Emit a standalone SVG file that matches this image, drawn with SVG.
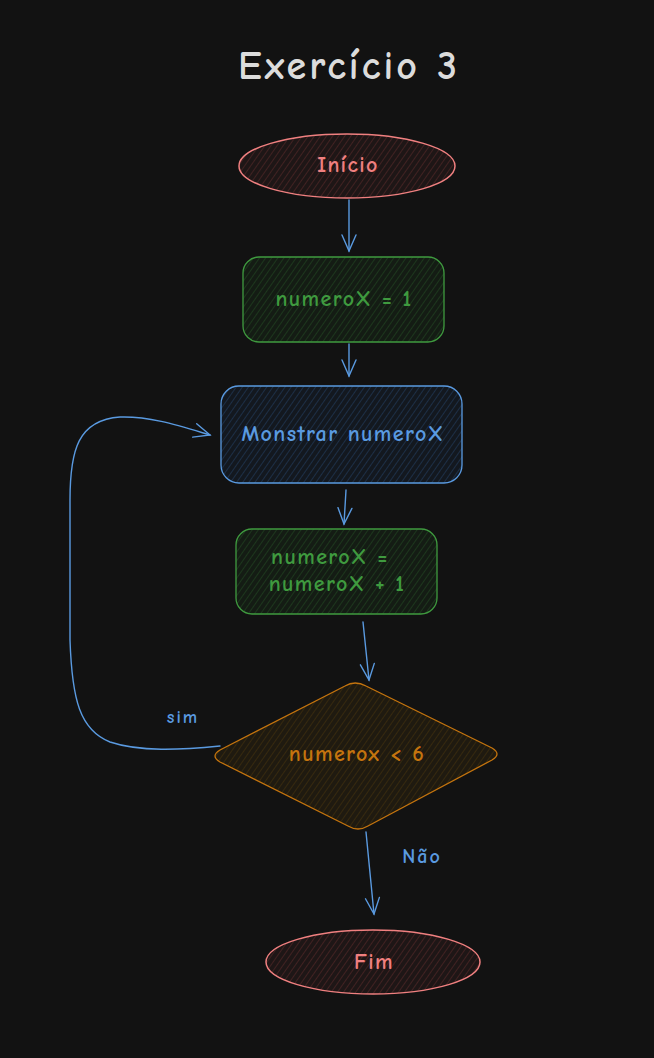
<svg xmlns="http://www.w3.org/2000/svg" width="654" height="1058" viewBox="0 0 654 1058">
<style>
text{font-family:"Comic Neue","Liberation Sans","DejaVu Sans",sans-serif;text-anchor:middle;dominant-baseline:central;font-weight:700}
.t{font-size:22px;letter-spacing:1.4px}
.red{stroke:#f08080;stroke-width:1.5}
.grn{stroke:#3f9a3f;stroke-width:1.3}
.blu{stroke:#5a9ae0;stroke-width:1.3}
.org{stroke:#c4740e;stroke-width:1.3}
.conn{fill:none;stroke:#5a9ae0;stroke-width:1.4;stroke-linecap:round}
</style>
<defs>
<pattern id="hr" width="5" height="5" patternUnits="userSpaceOnUse" patternTransform="rotate(35)"><rect width="5" height="5" fill="#1e1616"/><line x1="0" y1="0" x2="0" y2="5" stroke="#4a2424" stroke-width="1.6"/></pattern>
<pattern id="hg" width="5" height="5" patternUnits="userSpaceOnUse" patternTransform="rotate(35)"><rect width="5" height="5" fill="#141c14"/><line x1="0" y1="0" x2="0" y2="5" stroke="#1f3d1f" stroke-width="1.6"/></pattern>
<pattern id="hb" width="5" height="5" patternUnits="userSpaceOnUse" patternTransform="rotate(35)"><rect width="5" height="5" fill="#13181f"/><line x1="0" y1="0" x2="0" y2="5" stroke="#1f3550" stroke-width="1.6"/></pattern>
<pattern id="ho" width="5" height="5" patternUnits="userSpaceOnUse" patternTransform="rotate(35)"><rect width="5" height="5" fill="#1f1a10"/><line x1="0" y1="0" x2="0" y2="5" stroke="#3c2c0e" stroke-width="1.6"/></pattern>
<marker id="ar" viewBox="0 0 20 20" refX="18" refY="10" markerWidth="20" markerHeight="20" markerUnits="userSpaceOnUse" orient="auto"><path d="M2 3 L18 10 L2 17" fill="none" stroke="#5a9ae0" stroke-width="1.4" stroke-linecap="round"/></marker>
</defs>
<rect width="654" height="1058" fill="#121212"/>
<text x="349" y="66" font-size="40" letter-spacing="3" fill="#dcdcdc">Exercício 3</text>
<g id="connectors">
<path class="conn" d="M349 200 L349 251" marker-end="url(#ar)"/>
<path class="conn" d="M349 344 L349 376" marker-end="url(#ar)"/>
<path class="conn" d="M346 490 L344 524" marker-end="url(#ar)"/>
<path class="conn" d="M363 622 L369 680" marker-end="url(#ar)"/>
<path class="conn" d="M366 832 L374 914" marker-end="url(#ar)"/>
<path class="conn" d="M220 746 C180 750,140 752,110 742 C80 730,72 700,70 640 L70 500 C70 450,78 420,120 417 C150 416,180 426,210 435" marker-end="url(#ar)"/>
<text x="183" y="717" font-size="18" letter-spacing="2" fill="#5a9ae0">sim</text>
<text x="422" y="856" font-size="20" letter-spacing="2" fill="#5a9ae0">Não</text>
</g>
<g id="inicio">
<ellipse cx="347" cy="166" rx="108" ry="32" fill="url(#hr)" class="red"/>
<text class="t" x="348" y="165" fill="#f08080">Início</text>
</g>
<g id="n1">
<rect x="243" y="257" width="201" height="85" rx="16" fill="url(#hg)" class="grn"/>
<text class="t" x="344" y="299" fill="#3f9a3f">numeroX = 1</text>
</g>
<g id="mostrar">
<rect x="221" y="386" width="241" height="97" rx="18" fill="url(#hb)" class="blu"/>
<text class="t" x="343" y="434" fill="#5a9ae0">Monstrar numeroX</text>
</g>
<g id="n2">
<rect x="236" y="529" width="201" height="85" rx="16" fill="url(#hg)" class="grn"/>
<text class="t" x="330" y="557" fill="#3f9a3f">numeroX =</text>
<text class="t" x="337" y="584" fill="#3f9a3f">numeroX + 1</text>
</g>
<g id="decisao">
<path d="M345 686 Q355 680 366 686 L492 748 Q502 754 492 760 L368 826 Q358 832 348 826 L220 762 Q210 756 220 750 Z" fill="url(#ho)" class="org"/>
<text class="t" x="357" y="754" fill="#c4740e">numerox &lt; 6</text>
</g>
<g id="fim">
<ellipse cx="373" cy="962" rx="107" ry="32" fill="url(#hr)" class="red"/>
<text class="t" x="374" y="962" fill="#f08080">Fim</text>
</g>
</svg>
